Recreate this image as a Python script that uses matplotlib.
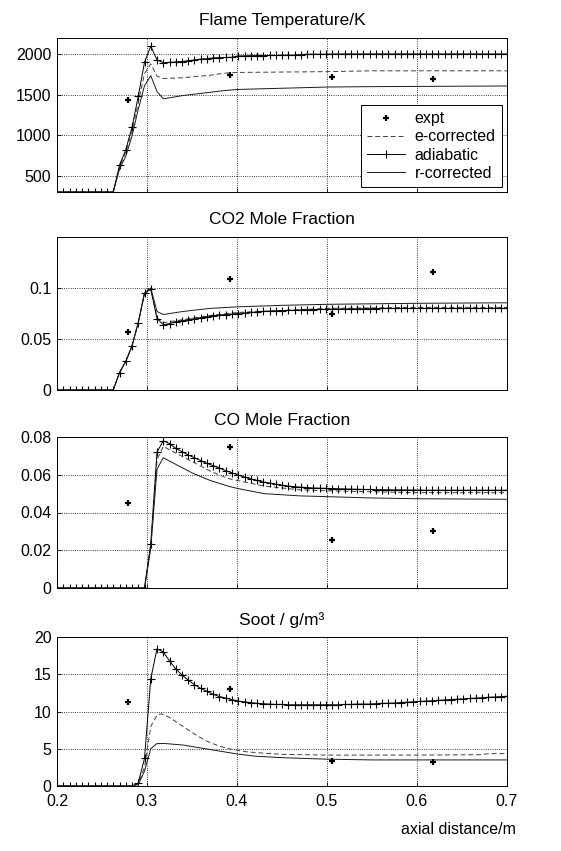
import numpy as np
import matplotlib
matplotlib.use('Agg')
import matplotlib.pyplot as plt

plt.rcParams['font.family'] = ['Liberation Sans', 'DejaVu Sans']

# common simulation grid (73 cells along the axis)
x_grid = np.linspace(0.2, 0.7, 73)

# experimental points
x_expt = [0.279, 0.392, 0.505, 0.618]
temp_expt = [1430, 1740, 1718, 1688]
co2_expt = [0.0573, 0.109, 0.075, 0.116]
co_expt = [0.0451, 0.0747, 0.0254, 0.0302]
soot_expt = [11.3, 13.0, 3.3, 3.2]

# adiabatic (values at every grid point)
temp_adia = [300] * 10 + [630, 820, 1100, 1480, 1900, 2100, 1930, 1895, 1900, 1905,
             1910, 1920, 1930, 1940, 1945, 1955, 1958, 1960, 1962, 1978,
             1980, 1982, 1983, 1984, 1985, 1985, 1986, 1986, 1987, 1995,
             2000, 2000, 2000, 2000, 2002, 2002, 2003, 2003, 2003, 2003,
             2003, 2003, 2003, 2003, 2003, 2003, 2003, 2003, 2003, 2003,
             2003, 2003, 2003, 2003, 2003, 2003, 2003, 2003, 2003, 2003,
             2003, 2003, 2003]
co2_adia = [0] * 10 + [0.017, 0.028, 0.043, 0.066, 0.095, 0.099, 0.070, 0.064, 0.065, 0.067,
            0.068, 0.069, 0.070, 0.071, 0.072, 0.073, 0.0735, 0.074, 0.0745, 0.075,
            0.0755, 0.076, 0.0765, 0.077, 0.0773, 0.0776, 0.0779, 0.078, 0.0782, 0.0784,
            0.0786, 0.0788, 0.079, 0.0791, 0.0792, 0.0793, 0.0794, 0.0795, 0.0796, 0.0797,
            0.0798, 0.0799, 0.080, 0.080, 0.080, 0.080, 0.080, 0.080, 0.080, 0.080,
            0.080, 0.080, 0.080, 0.080, 0.080, 0.080, 0.080, 0.080, 0.080, 0.080,
            0.080, 0.080, 0.080]
co_adia = [0] * 15 + [0.0235, 0.072, 0.078, 0.0765, 0.074, 0.0722, 0.0705, 0.069, 0.0675, 0.066,
          0.0648, 0.0635, 0.0622, 0.061, 0.0598, 0.0588, 0.0578, 0.057, 0.0562, 0.0556,
          0.055, 0.0545, 0.054, 0.0537, 0.0534, 0.0532, 0.053, 0.0529, 0.0528, 0.0527,
          0.0526, 0.0525, 0.0524, 0.0523, 0.0522, 0.0522, 0.0521, 0.0521, 0.052, 0.052,
          0.052, 0.0519, 0.0519, 0.0519, 0.0518, 0.0518, 0.0518, 0.0518, 0.0518, 0.0518,
          0.0518, 0.0518, 0.0518, 0.0518, 0.0518, 0.0518, 0.0518, 0.0518]
soot_adia = [0] * 13 + [0.4, 3.7, 14.4, 18.4, 18.0, 16.8, 15.7, 14.9, 14.2, 13.6,
            13.1, 12.7, 12.3, 12.0, 11.8, 11.6, 11.4, 11.3, 11.2, 11.1,
            11.05, 11.0, 10.95, 10.95, 10.9, 10.9, 10.9, 10.9, 10.9, 10.9,
            10.9, 10.9, 10.9, 10.95, 10.95, 11.0, 11.0, 11.0, 11.05, 11.1,
            11.1, 11.15, 11.2, 11.25, 11.3, 11.35, 11.4, 11.45, 11.5, 11.55,
            11.6, 11.65, 11.7, 11.75, 11.8, 11.85, 11.9, 11.95, 12.0, 12.05]

# e-corrected and r-corrected (coarser output points)
x_temp_c = [0.2, 0.2625, 0.2694, 0.2764, 0.2833, 0.2903, 0.2972, 0.3042, 0.3111, 0.3181,
            0.34, 0.37, 0.385, 0.40, 0.5, 0.55, 0.7]
temp_e = [300, 300, 600, 790, 1050, 1400, 1760, 1880, 1730, 1700,
          1710, 1740, 1765, 1775, 1785, 1795, 1795]
temp_r = [300, 300, 580, 740, 990, 1320, 1610, 1735, 1540, 1450,
          1490, 1530, 1550, 1565, 1595, 1600, 1608]

x_co2_c = [0.2, 0.2625, 0.2694, 0.2764, 0.2833, 0.2903, 0.2972, 0.3042, 0.3111, 0.3181,
           0.34, 0.37, 0.40, 0.45, 0.5, 0.6, 0.7]
co2_e = [0, 0, 0.017, 0.028, 0.043, 0.066, 0.094, 0.099, 0.071, 0.066,
         0.069, 0.073, 0.076, 0.078, 0.080, 0.081, 0.081]
co2_r = [0, 0, 0.017, 0.028, 0.043, 0.066, 0.095, 0.100, 0.077, 0.074,
         0.077, 0.080, 0.0815, 0.083, 0.084, 0.085, 0.0855]

x_co_c = [0.2, 0.2972, 0.3042, 0.3111, 0.3181, 0.33, 0.35, 0.37, 0.39, 0.40,
          0.43, 0.47, 0.5, 0.55, 0.6, 0.7]
co_e = [0, 0, 0.022, 0.068, 0.075, 0.072, 0.067, 0.062, 0.058, 0.057,
        0.054, 0.052, 0.0515, 0.051, 0.0505, 0.0505]
co_r = [0, 0, 0.021, 0.063, 0.069, 0.066, 0.061, 0.057, 0.054, 0.0528,
        0.050, 0.0488, 0.0484, 0.0477, 0.0473, 0.0470]

x_soot_e = [0.2, 0.2833, 0.2903, 0.2972, 0.3042, 0.3111, 0.316, 0.325, 0.335, 0.345,
            0.355, 0.365, 0.375, 0.385, 0.395, 0.41, 0.43, 0.45, 0.5, 0.6,
            0.67, 0.68, 0.7]
soot_e = [0, 0, 0.3, 2.5, 8.0, 9.5, 9.7, 9.2, 8.4, 7.6,
          6.8, 6.1, 5.6, 5.2, 4.9, 4.6, 4.4, 4.25, 4.15, 4.15,
          4.2, 4.35, 4.35]
x_soot_r = [0.2, 0.2833, 0.2903, 0.2972, 0.3042, 0.3111, 0.32, 0.34, 0.36, 0.38,
            0.40, 0.42, 0.45, 0.5, 0.55, 0.7]
soot_r = [0, 0, 0.2, 2.0, 5.0, 5.7, 5.7, 5.5, 5.1, 4.7,
          4.3, 4.0, 3.8, 3.6, 3.5, 3.5]

titles = ['Flame Temperature/K', 'CO2 Mole Fraction', 'CO Mole Fraction', 'Soot / g/m\u00b3']
ylims = [(300, 2200), (0, 0.15), (0, 0.08), (0, 20)]
yticks = [[500, 1000, 1500, 2000], [0, 0.05, 0.1], [0, 0.02, 0.04, 0.06, 0.08], [0, 5, 10, 15, 20]]
ytick_labels = [['500', '1000', '1500', '2000'], ['0', '0.05', '0.1'],
                ['0', '0.02', '0.04', '0.06', '0.08'], ['0', '5', '10', '15', '20']]
xticks = [0.2, 0.3, 0.4, 0.5, 0.6, 0.7]

panels = [
    (temp_expt, temp_adia, x_temp_c, temp_e, x_temp_c, temp_r),
    (co2_expt, co2_adia, x_co2_c, co2_e, x_co2_c, co2_r),
    (co_expt, co_adia, x_co_c, co_e, x_co_c, co_r),
    (soot_expt, soot_adia, x_soot_e, soot_e, x_soot_r, soot_r),
]

W, H = 561, 851
fig = plt.figure(figsize=(W / 100, H / 100), dpi=100)
boxes = [(38, 192), (237, 390), (437, 588), (637, 786)]  # top/bottom in pixels
ax_left, ax_right = 57, 507

fs_tick = 11.5
fs_title = 12.5
for k, (expt, adia, xe, ye, xr, yr) in enumerate(panels):
    top, bot = boxes[k]
    ax = fig.add_axes([ax_left / W, 1 - bot / H, (ax_right - ax_left) / W, (bot - top) / H])
    ax.plot(x_expt, expt, '+', color='k', ms=5, mew=1.6, label='expt', zorder=5)
    ax.plot(xe, ye, '--', color='0.25', lw=0.7, dashes=(5, 3), label='e-corrected')
    ax.plot(x_grid, adia, '-', color='k', lw=0.7, marker='+', ms=6, mew=0.8, label='adiabatic')
    ax.plot(xr, yr, '-', color='0.1', lw=0.7, label='r-corrected')
    ax.set_xlim(0.2, 0.7)
    ax.set_ylim(*ylims[k])
    ax.set_xticks(xticks)
    ax.set_yticks(yticks[k])
    ax.set_yticklabels(ytick_labels[k], fontsize=fs_tick)
    if k == 3:
        ax.set_xticklabels(['0.2', '0.3', '0.4', '0.5', '0.6', '0.7'], fontsize=fs_tick)
    else:
        ax.set_xticklabels([])
    ax.grid(True, linestyle=':', color='k', lw=0.6)
    ax.tick_params(direction='in', length=3, width=0.6, pad=4)
    ax.tick_params(axis='x', pad=6)
    for s in ax.spines.values():
        s.set_linewidth(0.7)
    ax.set_title(titles[k], fontsize=fs_title, pad=9)
    if k == 0:
        leg = ax.legend(loc='lower right', fontsize=11.5, fancybox=False, framealpha=1,
                        edgecolor='k', borderaxespad=0.3, handlelength=2.4,
                        borderpad=0.4, labelspacing=0.2, handletextpad=0.6)
        leg.get_frame().set_linewidth(0.7)

fig.text(458 / W, 1 - 830 / H, 'axial distance/m', fontsize=11.5, ha='center', va='center')

fig.savefig('out.png', dpi=100, facecolor='white')
